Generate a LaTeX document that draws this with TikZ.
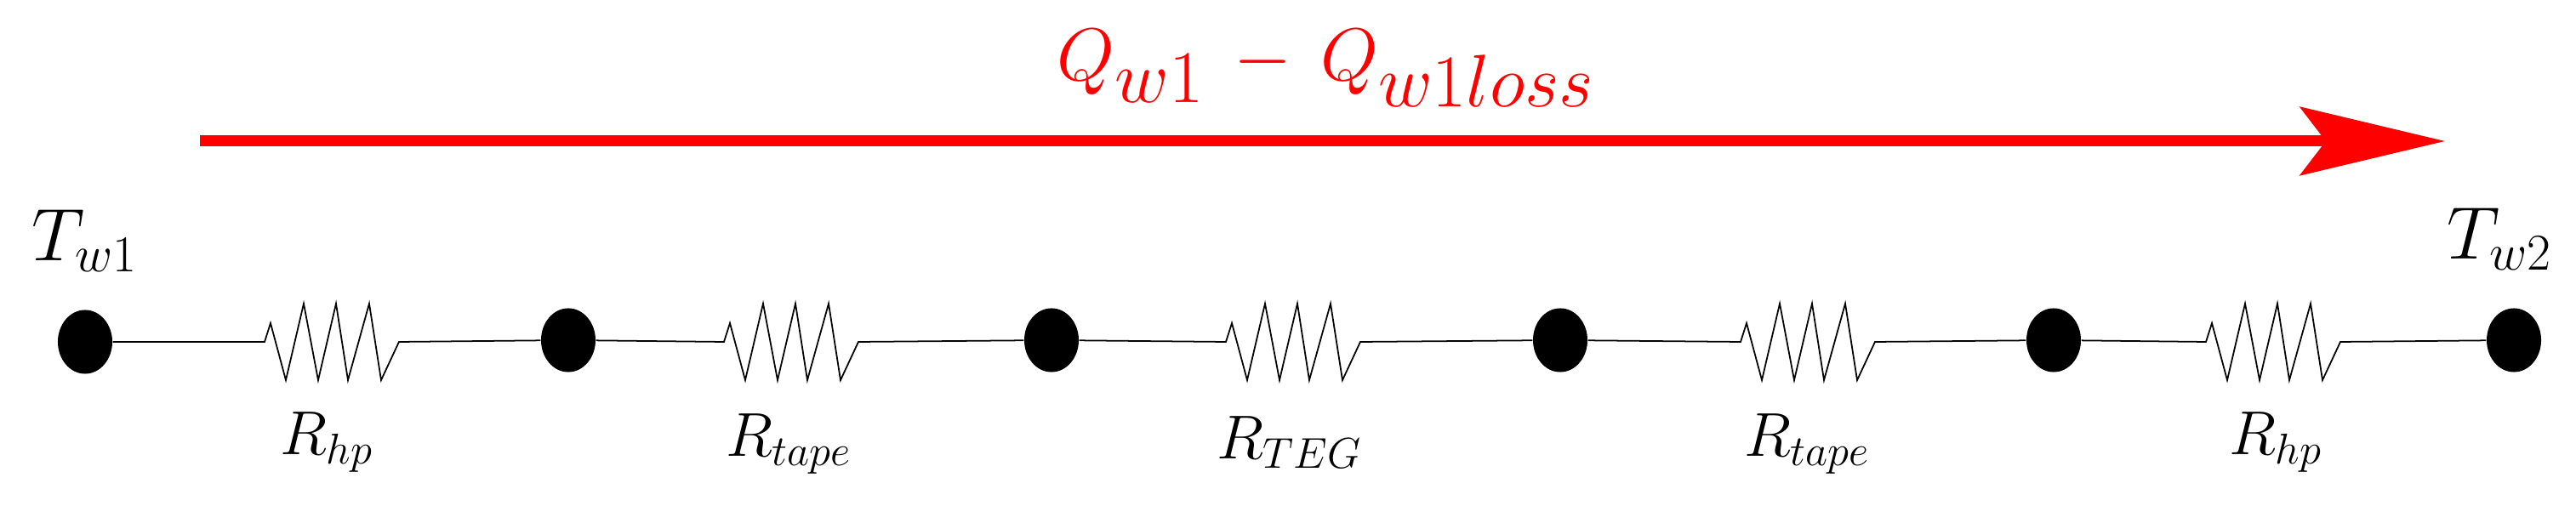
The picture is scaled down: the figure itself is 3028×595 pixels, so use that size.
\documentclass[tikz,border=0pt]{standalone}
\usetikzlibrary{shapes.geometric,arrows.meta}
\begin{document}
\begin{tikzpicture}[x=0.01cm,y=-0.01cm,
  dot/.style={ellipse,fill=black,inner sep=0,minimum width=0.64cm,minimum height=0.75cm},
  wire/.style={line width=0.5pt,black},
  lab/.style={font=\fontsize{21}{24}\selectfont,inner sep=0},
  tlab/.style={font=\fontsize{24}{28}\selectfont,inner sep=0}]
\useasboundingbox (0,0) rectangle (3028,595);
\node[dot] (n1) at (100,402) {};
\node[dot] (n2) at (668,400) {};
\node[dot] (n3) at (1236,400) {};
\node[dot] (n4) at (1834,400) {};
\node[dot] (n5) at (2414,400) {};
\node[dot] (n6) at (2955,400) {};
\foreach \i/\c in {1/390,2/930,3/1520,4/2125,5/2672}{
  \coordinate (r\i a) at ({\c-79},402);
  \coordinate (r\i b) at ({\c+79},402);
}
\foreach \i/\j in {1/2,2/3,3/4,4/5,5/6}{
  \draw[wire] (n\i) -- (r\i a) -- ++(7,-22) -- ++(18,67) -- ++(21,-90) -- ++(17,90) -- ++(21,-90)
    -- ++(14,90) -- ++(25,-90) -- ++(14,90) -- (r\i b) -- (n\j);
}
\node[lab] (l1) at (384,520) {$R_{hp}$};
\node[lab] (l2) at (927,522) {$R_{tape}$};
\node[lab] (l3) at (1516,520) {$R_{TEG}$};
\node[lab] (l4) at (2124,522) {$R_{tape}$};
\node[lab] (l5) at (2675,520) {$R_{hp}$};
\node[tlab] (t1) at (100,283) {$T_{w1}$};
\node[tlab] (t2) at (2938,281) {$T_{w2}$};
\coordinate (as) at (235,166);
\coordinate (ae) at (2874,166);
\draw[red,line width=1.3mm,-{Stealth[length=17mm,width=8mm,inset=3mm]}] (as) -- (ae);
\node[red,font=\fontsize{44}{50}\selectfont,inner sep=0] (q) at (1559,80) {$Q_{w1}\,-\,Q_{w1loss}$};
\end{tikzpicture}
\end{document}
